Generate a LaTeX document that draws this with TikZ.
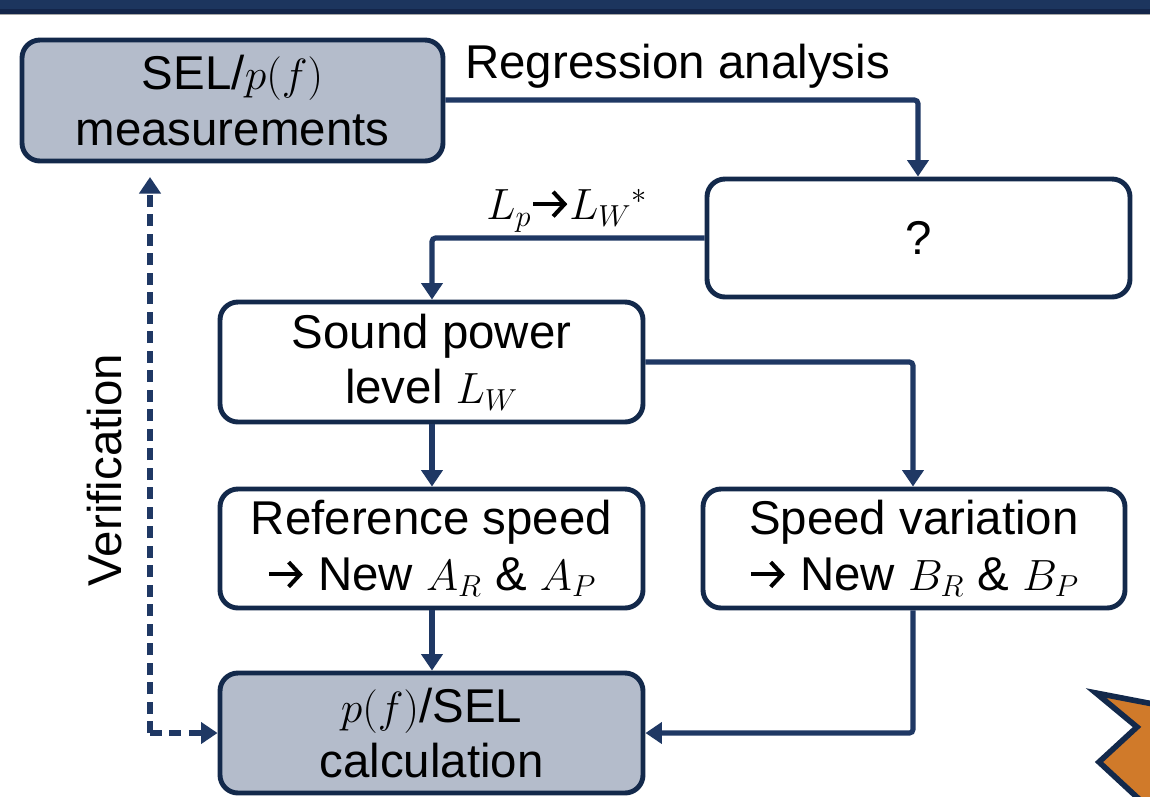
\documentclass[tikz,border=0pt]{standalone}
\usepackage{fontspec}
\setmainfont{Liberation Sans}
\usetikzlibrary{arrows.meta}
\definecolor{navy}{HTML}{13294B}
\definecolor{conn}{HTML}{1F3864}
\definecolor{barc}{HTML}{1C355E}
\definecolor{bard}{HTML}{13254A}
\definecolor{boxfill}{HTML}{B4BCCB}
\definecolor{orng}{HTML}{D07A2A}
\newcommand{\rarr}{\tikz[baseline=-0.33em, x=1cm, y=1cm]\draw[black, line width=2.3pt, line cap=butt,
  -{Straight Barb[length=6.5pt,width=14pt,line width=2.3pt]}] (0,0) -- (0.68cm,0);}
\tikzset{
  box/.style={draw=navy, line width=2.8pt, rounded corners=0.36cm, align=center,
    font=\fontsize{27}{31.5}\selectfont, inner sep=0pt},
  greybox/.style={box, fill=boxfill},
  whitebox/.style={box, fill=white},
  lbl/.style={font=\fontsize{27}{31.5}\selectfont, inner sep=0pt},
  conn/.style={draw=conn, line width=2.9pt, -{Triangle[length=0.33cm,width=0.42cm]}},
  dashconn/.style={conn, dash pattern=on 0.24cm off 0.15cm},
}
\begin{document}
\begin{tikzpicture}[x=0.02cm, y=-0.02cm]
\useasboundingbox (0,0) rectangle (1150,796);
% top bar
\fill[barc] (0,0) rectangle (1150,9);
\fill[bard] (0,9) rectangle (1150,13.5);
\fill[gray!70] (0,13.5) rectangle (1150,14.5);
% orange chevron
\begin{scope}
\clip (0,0) rectangle (1150,796);
\draw[fill=orng, draw=navy, line width=3.2pt, line join=miter]
  (1096,693) -- (1200,713) -- (1200,820) -- (1150,820) -- (1140,800) -- (1099,762) -- (1137,727) -- cycle;
\end{scope}
% nodes
\node[greybox, minimum width=421*0.02cm, minimum height=121*0.02cm] (sel) at (232.5,100.5) {SEL/$p(f)$\\measurements};
\node[whitebox, minimum width=423*0.02cm, minimum height=118*0.02cm] (q) at (918.5,238) {?};
\node[whitebox, minimum width=423*0.02cm, minimum height=120*0.02cm] (sp) at (431.5,362) {Sound power\\level $L_W$};
\node[whitebox, minimum width=423*0.02cm, minimum height=119*0.02cm] (rs) at (431.5,548.5) {Reference speed\\\rarr{} New $A_R$ \& $A_P$};
\node[whitebox, minimum width=422*0.02cm, minimum height=119*0.02cm] (sv) at (914,548.5) {Speed variation\\\rarr{} New $B_R$ \& $B_P$};
\node[greybox, minimum width=423*0.02cm, minimum height=120*0.02cm] (calc) at (431.5,733) {$p(f)$/SEL\\calculation};
% labels
\node[lbl, anchor=west] (reg) at (465,66) {Regression analysis};
\node[lbl] (lplw) at (567,211) {$L_p$\rarr$L_W{}^*$};
\node[lbl, rotate=90] (ver) at (105,470) {Verification};
% connectors
\coordinate (c1) at (918,100);
\coordinate (c2) at (432,238);
\coordinate (c3) at (913,362);
\coordinate (c4) at (913,733);
\coordinate (c5) at (150,733);
\draw[conn, rounded corners=2pt] (sel.east |- c1) -- (c1) -- (c1 |- q.north);
\draw[conn, rounded corners=2pt] (q.west |- c2) -- (c2) -- (c2 |- sp.north);
\draw[conn] (sp.south -| c2) -- (rs.north -| c2);
\draw[conn, rounded corners=2pt] (sp.east |- c3) -- (c3) -- (c3 |- sv.north);
\draw[conn] (rs.south -| c2) -- (calc.north -| c2);
\draw[conn, rounded corners=2pt] (sv.south -| c4) -- (c4) -- (calc.east |- c4);
\draw[dashconn] (c5) -- (calc.west |- c5);
\draw[dashconn] (c5) -- (c5 |- 0,177);
\end{tikzpicture}
\end{document}
